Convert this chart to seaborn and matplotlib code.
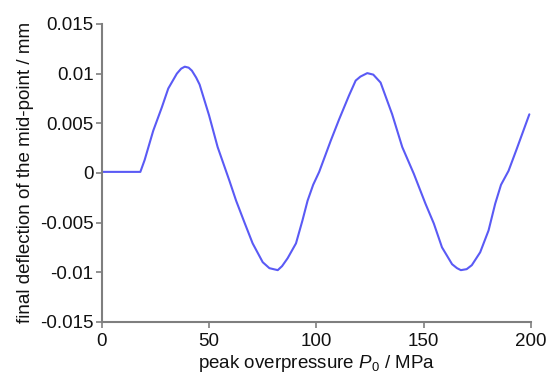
import matplotlib
matplotlib.use("Agg")
import matplotlib.pyplot as plt
import seaborn as sns
import pandas as pd

# data
pressure = [0, 18, 20, 24, 28, 31, 35, 37, 38.7, 40.5, 42, 44, 45.6, 50, 54, 59.5, 62.6,
            66.5, 70.3, 75, 78.1, 80, 82, 84, 86.6, 90.5, 93.5, 95.9, 98.5, 101.3, 106.7,
            110.6, 115.2, 118.3, 120.5, 123.7, 126.5, 129.9, 135.3, 140, 145.4, 150.8,
            154.7, 158.5, 163.2, 165.5, 167.3, 170, 172.4, 176.3, 180.2, 183.3, 186,
            189.5, 193.3, 199.2]
deflection = [0.0001, 0.0001, 0.0013, 0.00425, 0.0066, 0.0085, 0.0100, 0.0105, 0.0107,
              0.0106, 0.0103, 0.0096, 0.0089, 0.0058, 0.0026, -0.0008, -0.0028, -0.0050,
              -0.0071, -0.0090, -0.0096, -0.0097, -0.0098, -0.0094, -0.0086, -0.0071,
              -0.0048, -0.0028, -0.0012, 0.0001, 0.00325, 0.0054, 0.0078, 0.0093, 0.0097,
              0.01005, 0.0099, 0.0091, 0.0059, 0.0026, -0.0001, -0.0031, -0.0051, -0.0075,
              -0.0092, -0.0096, -0.0098, -0.0097, -0.0093, -0.0080, -0.0058, -0.0031,
              -0.0012, 0.0002, 0.0024, 0.0059]
x_ticks = [0, 50, 100, 150, 200]
y_ticks = [-0.015, -0.01, -0.005, 0, 0.005, 0.01, 0.015]
y_tick_labels = ["-0.015", "-0.01", "-0.005", "0", "0.005", "0.01", "0.015"]

df = pd.DataFrame({"P": pressure, "d": deflection})

sns.set_style("white")
plt.rcParams["font.family"] = ["Liberation Sans", "DejaVu Sans"]
plt.rcParams["mathtext.fontset"] = "custom"
plt.rcParams["mathtext.it"] = "Liberation Sans:italic"
plt.rcParams["mathtext.rm"] = "Liberation Sans"

fig = plt.figure(figsize=(5.54, 3.75), dpi=100)
ax = fig.add_axes([0.1836, 0.142, 0.775, 0.794])
sns.lineplot(data=df, x="P", y="d", ax=ax, color="#5a5af5", linewidth=1.5,
             estimator=None, sort=False)

ax.set_xlim(0, 200)
ax.set_ylim(-0.015, 0.015)
ax.set_xticks(x_ticks)
ax.set_xticklabels([str(t) for t in x_ticks])
ax.set_yticks(y_ticks)
ax.set_yticklabels(y_tick_labels)

for s in ["top", "right"]:
    ax.spines[s].set_visible(False)
for s in ["left", "bottom"]:
    ax.spines[s].set_color("#7f7f7f")
    ax.spines[s].set_linewidth(1.5)
ax.tick_params(axis="x", pad=4)
ax.tick_params(axis="y", pad=2)
ax.tick_params(axis="both", direction="out", length=4, width=1.2, color="#7f7f7f",
               labelsize=13.5, labelcolor="#111111", left=True, bottom=True)

ax.set_xlabel(r"peak overpressure $P_{0}$ / MPa", fontsize=13.5, labelpad=2, color="#111111")
ax.set_ylabel("final deflection of the mid-point / mm", fontsize=13.5, labelpad=4, color="#111111")

fig.savefig("out.png", dpi=100)
